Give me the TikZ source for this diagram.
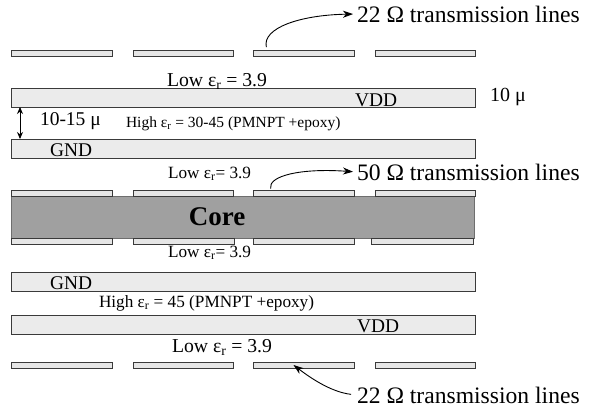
\documentclass[tikz,border=0pt]{standalone}
\usepackage{fontspec}
\setmainfont{Liberation Serif}
\usetikzlibrary{arrows.meta}
\definecolor{layerfill}{HTML}{EBEBEB}
\definecolor{stripfill}{HTML}{E6E6E6}
\definecolor{corefill}{HTML}{A0A0A0}
\definecolor{edgecol}{HTML}{3A3A3A}
\definecolor{coreedge}{HTML}{6E6E6E}
\newcommand{\fs}[1]{\fontsize{#1}{#1}\selectfont}
\begin{document}
\begin{tikzpicture}[x=1pt,y=-1pt,
  strip/.style={draw=edgecol, fill=stripfill, line width=0.9pt, inner sep=0pt, outer sep=0pt, minimum height=6pt, anchor=north west},
  layer/.style={draw=edgecol, fill=layerfill, line width=0.9pt, inner sep=0pt, outer sep=0pt, minimum width=464pt, minimum height=19pt, anchor=north west},
  corebox/.style={draw=coreedge, fill=corefill, line width=0.9pt, inner sep=0pt, outer sep=0pt, minimum width=463pt, minimum height=41.5pt, anchor=north west},
  txt/.style={inner sep=0pt, outer sep=0pt, anchor=west, text=black},
  btxt/.style={inner sep=0pt, outer sep=0pt, anchor=base west, text=black},
  conn/.style={line width=0.9pt, -{Stealth[length=10pt,width=7pt,inset=3pt]}},
  dbl/.style={line width=0.9pt, {Stealth[length=7pt,width=6pt]}-{Stealth[length=7pt,width=6pt]}}]
\useasboundingbox (0,0) rectangle (589,410);

% top strips
\node[strip, minimum width=101pt] (t1) at (11,50) {};
\node[strip, minimum width=100pt] (t2) at (133,50) {};
\node[strip, minimum width=101pt] (t3) at (253,50) {};
\node[strip, minimum width=100pt] (t4) at (375,50) {};

% upper power layers
\node[layer] (vddA) at (11,88) {};
\node[layer] (gndA) at (11,139) {};

% core with strips
\node[corebox] (core) at (11,196.5) {};
\node[strip, minimum width=101pt] (u1) at (11,190.5) {};
\node[strip, minimum width=100pt] (u2) at (133,190.5) {};
\node[strip, minimum width=101pt] (u3) at (253,190.5) {};
\node[strip, minimum width=100pt] (u4) at (375,190.5) {};
\node[strip, minimum width=101pt] (l1) at (11,238) {};
\node[strip, minimum width=101pt] (l2) at (133,238) {};
\node[strip, minimum width=101pt] (l3) at (253,238) {};
\node[strip, minimum width=102pt] (l4) at (371,238) {};

% lower power layers
\node[layer] (gndB) at (11,272) {};
\node[layer] (vddB) at (11,315) {};

% bottom strips
\node[strip, minimum width=101pt] (b1) at (11,362) {};
\node[strip, minimum width=100pt] (b2) at (133,362) {};
\node[strip, minimum width=101pt] (b3) at (253,362) {};
\node[strip, minimum width=100pt] (b4) at (375,362) {};

% texts
\node[txt] (lab22a) at (357,14) {\fs{23.6}22 Ω transmission lines};
\node[btxt] (lowA) at (167,86) {\fs{19.7}Low ε\textsubscript{r} = 3.9};
\node[btxt] (vddtA) at (355,106) {\fs{19.4}VDD};
\node[txt] (tenmu) at (490,97) {\fs{20}10 μ};
\node[txt] (gap) at (40,121) {\fs{19.5}10-15 μ};
\node[btxt] (highA) at (126,127) {\fs{15.5}High ε\textsubscript{r} = 30-45 (PMNPT +epoxy)};
\node[btxt] (gndtA) at (50,156) {\fs{19.4}GND};
\node[btxt] (lowB) at (168,178) {\fs{17.2}Low ε\textsubscript{r}= 3.9};
\node[txt] (lab50) at (357,172) {\fs{23.6}50 Ω transmission lines};
\node[inner sep=0pt] (coret) at (217,217) {\fs{27}\bfseries Core};
\node[btxt] (lowC) at (168,257) {\fs{17.2}Low ε\textsubscript{r}= 3.9};
\node[btxt] (gndtB) at (50,289) {\fs{19.4}GND};
\node[btxt] (highB) at (99,307) {\fs{17.2}High ε\textsubscript{r} = 45 (PMNPT +epoxy)};
\node[btxt] (vddtB) at (357,332) {\fs{19.4}VDD};
\node[btxt] (lowD) at (172,352) {\fs{19.7}Low ε\textsubscript{r} = 3.9};
\node[txt] (lab22b) at (357,395) {\fs{23.6}22 Ω transmission lines};

% connectors
\draw[conn, shorten <=3pt, shorten >=4pt] ([xshift=14pt]t3.north west) .. controls (262,28) and (300,15) .. (lab22a.west);
\draw[conn, shorten <=2pt, shorten >=4pt] ([xshift=18pt]u3.north west) .. controls (268,176) and (300,168) .. (lab50.west);
\draw[conn, shorten <=6pt] (lab22b.west) .. controls (330,392) and (308,376) .. ([xshift=-10pt]b3.center);
\draw[dbl] ([xshift=9pt]vddA.south west) -- ([xshift=9pt]gndA.north west);
\end{tikzpicture}
\end{document}
